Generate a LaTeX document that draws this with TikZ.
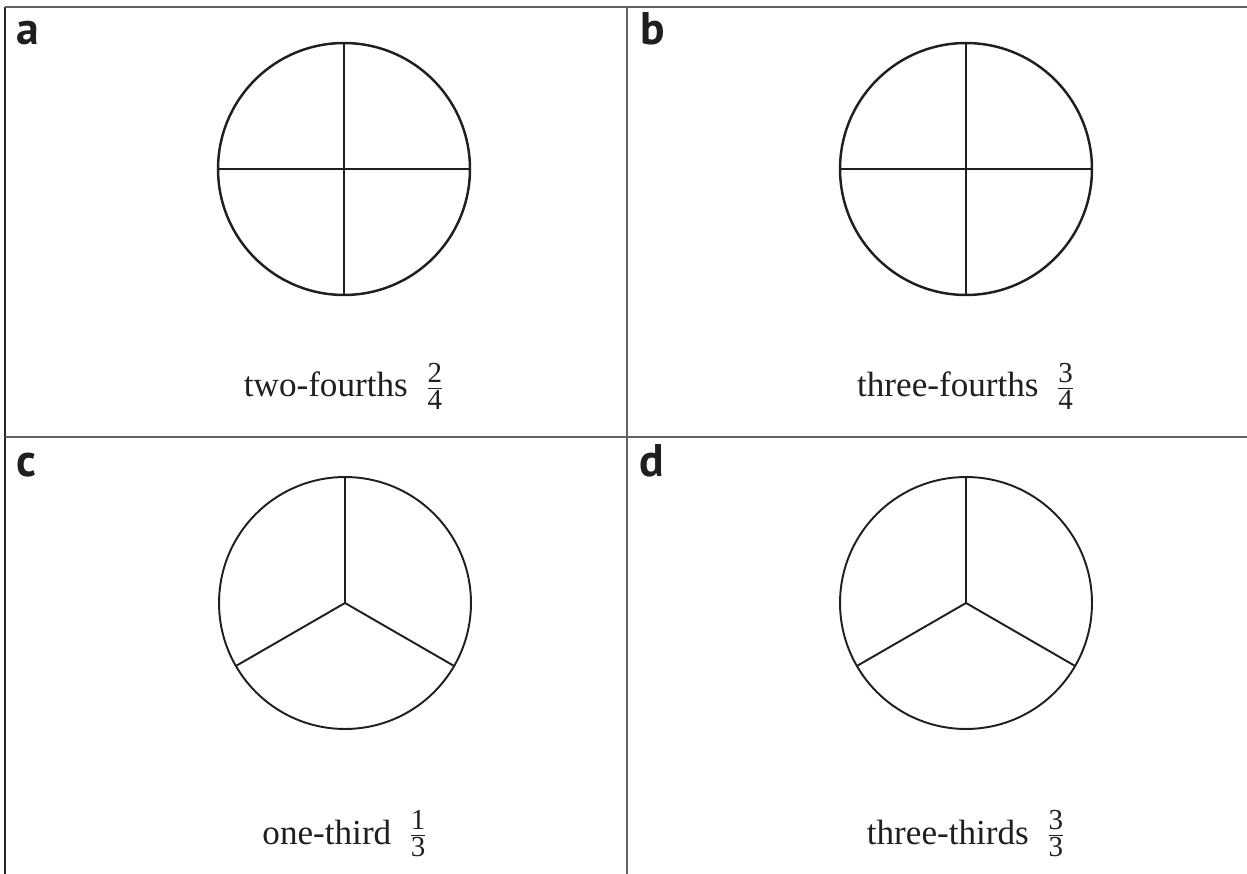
\documentclass[tikz,border=0pt]{standalone}
\usepackage{fontspec}
\setmainfont{Liberation Serif}
\newfontfamily\panelfont{PT Sans}
\usetikzlibrary{positioning}

\newcommand{\fracpart}[2]{$\frac{\mbox{\fontsize{16.5}{16.5}\selectfont #1}}{\mbox{\fontsize{16.5}{16.5}\selectfont #2}}$}

\begin{document}
\begin{tikzpicture}[
  x=0.02cm, y=-0.02cm,
  cadre/.style={draw=black!62, line width=0.9pt},
  disque/.style={
    circle,
    draw=black!88,
    line width=1.1pt,
    minimum size=5.04cm,
    inner sep=0pt,
    outer sep=0pt
  },
  rayon/.style={draw=black!88, line width=1.1pt},
  lettre/.style={
    font=\panelfont\bfseries\fontsize{26}{30}\selectfont,
    anchor=base west,
    inner sep=0pt,
    text=black!88
  },
  legende/.style={
    font=\fontsize{20}{24}\selectfont,
    anchor=base,
    inner sep=0pt,
    text=black!88
  }
]
  \useasboundingbox (0,0) rectangle (1247,874);

  % grille des quatre cases
  \draw[cadre, draw=black!85] (5,874) -- (5,7);
  \draw[cadre] (5,7) -- (1247,7);
  \draw[cadre] (627,7) -- (627,874);
  \draw[cadre] (5,437) -- (1247,437);

  \node[lettre] (la) at (16,45) {a};
  \node[lettre] (lb) at (640,45) {b};
  \node[lettre] (lc) at (16,477) {c};
  \node[lettre] (ld) at (639,477) {d};

  \node[disque, line width=1.4pt] (pa) at (344,169) {};
  \node[disque, line width=1.4pt] (pb) at (966,169) {};
  \node[disque] (pc) at (345,603) {};
  \node[disque] (pd) at (966,603) {};

  \foreach \n in {pa, pb} {
    \draw[rayon, line width=1.4pt] (\n.north) -- (\n.south) (\n.west) -- (\n.east);
  }
  \foreach \n in {pc, pd} {
    \draw[rayon] (\n.center) -- (\n.90) (\n.center) -- (\n.210) (\n.center) -- (\n.330);
  }

  \node[legende] (ta) at (344,397) {two-fourths\enspace\fracpart{2}{4}};
  \node[legende] (tb) at (966,397) {three-fourths\enspace\fracpart{3}{4}};
  \node[legende] (tc) at (345,844) {one-third\enspace\fracpart{1}{3}};
  \node[legende] (td) at (966,844) {three-thirds\enspace\fracpart{3}{3}};
\end{tikzpicture}
\end{document}
